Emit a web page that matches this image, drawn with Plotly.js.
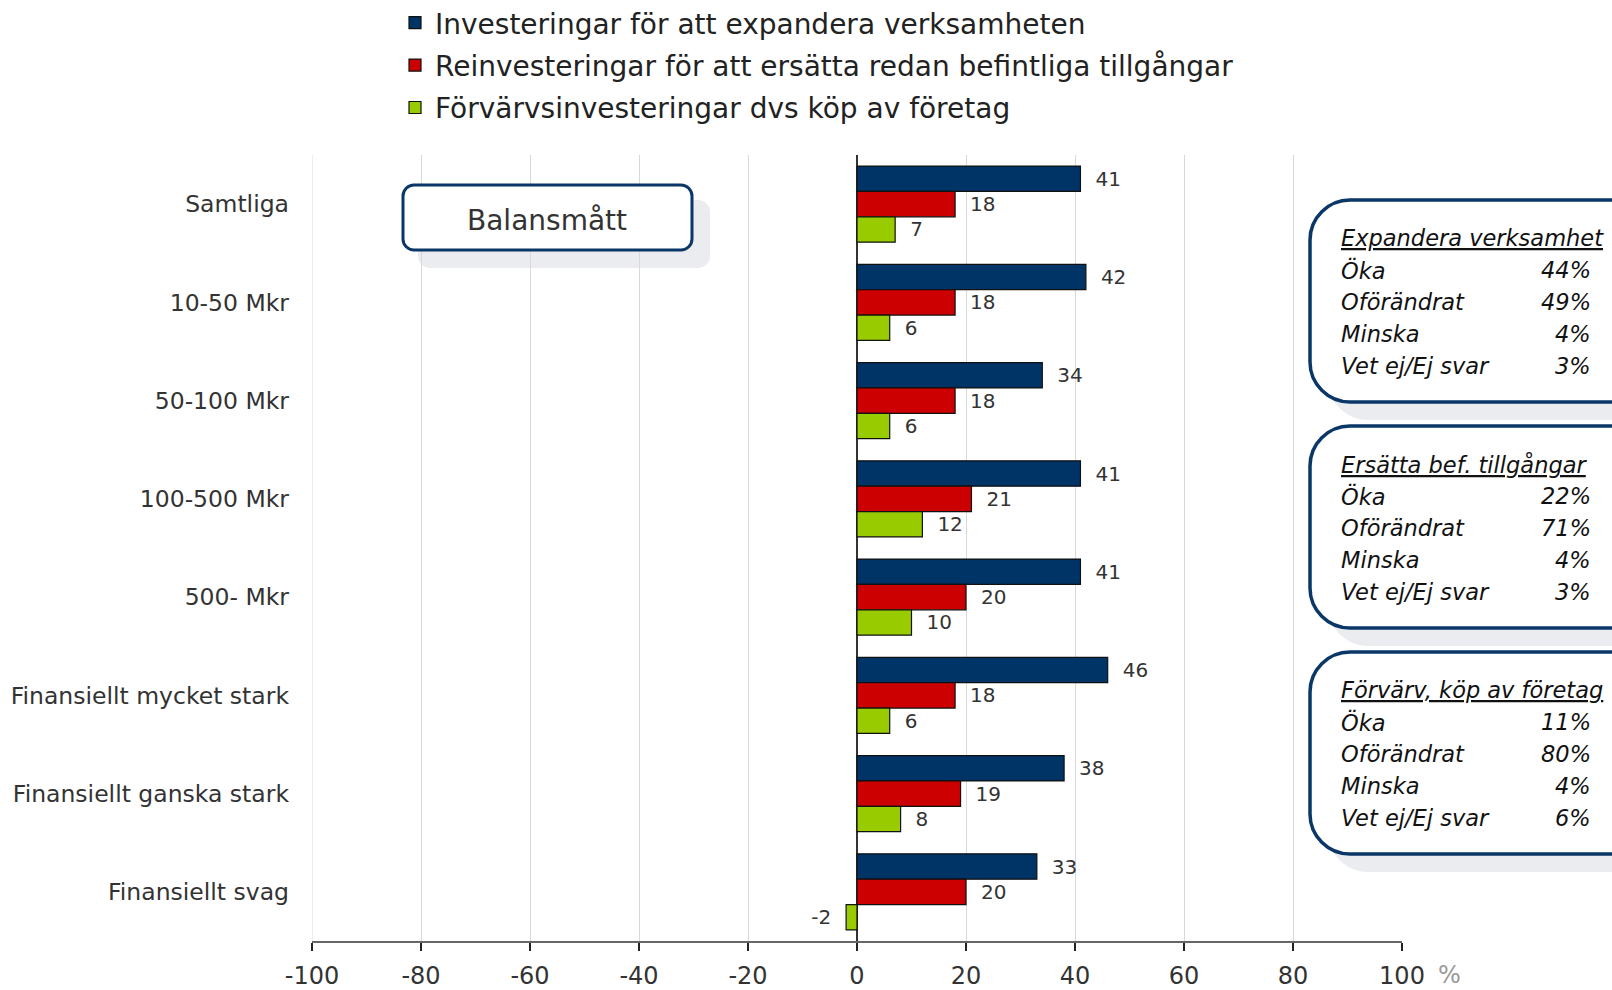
<!DOCTYPE html>
<html>
<head>
<meta charset="utf-8">
<script src="https://cdn.plot.ly/plotly-3.0.1.min.js"></script>
<style>html,body{margin:0;padding:0;background:#fff;}#chart{width:1612px;height:990px;}</style>
</head>
<body>
<div id="chart"></div>
<script>
// ---- data ----
const categories = ['Samtliga','10-50 Mkr','50-100 Mkr','100-500 Mkr','500- Mkr','Finansiellt mycket stark','Finansiellt ganska stark','Finansiellt svag'];
const seriesNames = ['Investeringar för att expandera verksamheten','Reinvesteringar för att ersätta redan befintliga tillgångar','Förvärvsinvesteringar dvs köp av företag'];
const expandValues = [41,42,34,41,41,46,38,33];
const reinvestValues = [18,18,18,21,20,18,19,20];
const acquireValues = [7,6,6,12,10,6,8,-2];
const xTickValues = [-100,-80,-60,-40,-20,0,20,40,60,80,100];
const boxTitle = 'Balansmått';
const tableTitles = ['Expandera verksamhet','Ersätta bef. tillgångar','Förvärv, köp av företag'];
const tableRowLabels = ['Öka','Oförändrat','Minska','Vet ej/Ej svar'];
const expandShares = [44,49,4,3];
const reinvestShares = [22,71,4,3];
const acquireShares = [11,80,4,6];

// ---- layout geometry (pixels) ----
const W = 1612, H = 990;
const ML = 312, MR = 210, MT = 155, MB = 49;
const PW = W - ML - MR, PH = H - MT - MB;
const px = x => (x - ML) / PW;
const py = y => (H - MB - y) / PH;
const colors = ['#003366', '#cc0000', '#99cc00'];
const FONT = '"DejaVu Sans", Verdana, sans-serif';
const TXT = '#333333';

function label(v) { return v >= 0 ? '\u2002\u200A' + v : v + '\u2002\u200A'; }

const allValues = [expandValues, reinvestValues, acquireValues];
const traces = allValues.map((vals, i) => ({
  type: 'bar', orientation: 'h',
  name: seriesNames[i], legendgroup: 'g' + i,
  y: categories, x: vals,
  text: vals.map(label), textposition: 'outside', cliponaxis: false,
  textfont: {family: FONT, size: 20, color: TXT},
  marker: {color: colors[i], line: {color: '#111111', width: 1.2}},
  hoverinfo: 'x+y'
}));

function rr(x0, y0, x1, y1, r) {
  const P = (x, y) => px(x) + ',' + py(y);
  return 'M' + P(x0 + r, y0) + ' L' + P(x1 - r, y0) + ' C' + P(x1 - r * 0.45, y0) + ' ' + P(x1, y0 + r * 0.45) + ' ' + P(x1, y0 + r) +
    ' L' + P(x1, y1 - r) + ' C' + P(x1, y1 - r * 0.45) + ' ' + P(x1 - r * 0.45, y1) + ' ' + P(x1 - r, y1) +
    ' L' + P(x0 + r, y1) + ' C' + P(x0 + r * 0.45, y1) + ' ' + P(x0, y1 - r * 0.45) + ' ' + P(x0, y1 - r) +
    ' L' + P(x0, y0 + r) + ' C' + P(x0, y0 + r * 0.45) + ' ' + P(x0 + r * 0.45, y0) + ' ' + P(x0 + r, y0) + ' Z';
}

const shapes = [];
const annotations = [];
const SHADOW = '#eaecef', BORDER = '#0b3768';

// gridline at the left edge (-100)
shapes.push({type: 'line', xref: 'x', yref: 'paper', x0: xTickValues[0], x1: xTickValues[0], y0: 0, y1: 1, layer: 'below', line: {color: '#d9d9d9', width: 1}});

// Balansmått box
shapes.push({type: 'path', xref: 'paper', yref: 'paper', layer: 'below', path: rr(418, 200, 710, 268, 12), fillcolor: SHADOW, line: {width: 0}});
shapes.push({type: 'path', xref: 'paper', yref: 'paper', layer: 'above', path: rr(403, 185, 692, 250, 11), fillcolor: '#ffffff', line: {color: BORDER, width: 3}});
annotations.push({xref: 'paper', yref: 'paper', x: px(547), y: py(220), text: boxTitle, showarrow: false, xanchor: 'center', yanchor: 'middle', font: {family: FONT, size: 28, color: TXT}});

// Right tables
const TF = 22.5;
const tableShares = [expandShares, reinvestShares, acquireShares];
tableTitles.forEach((t, k) => {
  const top = 200 + k * 226, bot = top + 202;
  shapes.push({type: 'path', xref: 'paper', yref: 'paper', layer: 'below', path: rr(1328, top + 18, 1660, bot + 18, 40), fillcolor: SHADOW, line: {width: 0}});
  shapes.push({type: 'path', xref: 'paper', yref: 'paper', layer: 'above', path: rr(1310, top, 1650, bot, 40), fillcolor: '#ffffff', line: {color: BORDER, width: 3.5}});
  const y0 = 238 + k * 226;
  annotations.push({xref: 'paper', yref: 'paper', x: px(1339), y: py(y0), text: '<u>' + t + '</u>', showarrow: false, xanchor: 'left', yanchor: 'middle', font: {family: FONT, size: TF, color: '#111', style: 'italic'}});
  tableRowLabels.forEach((lab, j) => {
    const yy = y0 + 32 * (j + 1);
    annotations.push({xref: 'paper', yref: 'paper', x: px(1339), y: py(yy), text: lab, showarrow: false, xanchor: 'left', yanchor: 'middle', font: {family: FONT, size: TF, color: '#111', style: 'italic'}});
    annotations.push({xref: 'paper', yref: 'paper', x: px(1593), y: py(yy), text: tableShares[k][j] + '%', showarrow: false, xanchor: 'right', yanchor: 'middle', font: {family: FONT, size: TF, color: '#111', style: 'italic'}});
  });
});

// % unit after axis
annotations.push({xref: 'paper', yref: 'paper', x: px(1436), y: py(975), text: '%', showarrow: false, xanchor: 'left', yanchor: 'middle', font: {family: FONT, size: 24, color: '#999999'}});

const layout = {
  width: W, height: H,
  margin: {l: ML, r: MR, t: MT, b: MB, pad: 0, autoexpand: false},
  paper_bgcolor: '#ffffff', plot_bgcolor: '#ffffff',
  font: {family: FONT, color: TXT},
  barmode: 'group', bargap: 0.226, bargroupgap: 0,
  showlegend: true,
  legend: {x: px(395), y: py(-2), xanchor: 'left', yanchor: 'top', orientation: 'v', tracegroupgap: 3, itemwidth: 30,
    font: {family: FONT, size: 28, color: '#222'}, bgcolor: 'rgba(0,0,0,0)', traceorder: 'grouped'},
  xaxis: {range: [-100, 100], tickvals: xTickValues, ticktext: xTickValues.map(String),
    showgrid: true, gridcolor: '#d9d9d9', gridwidth: 1,
    zeroline: true, zerolinecolor: '#333333', zerolinewidth: 1.5,
    showline: true, linecolor: '#666666', linewidth: 1.5,
    ticks: 'outside', ticklen: 8, tickcolor: '#222', tickwidth: 1.5,
    ticklabelstandoff: 5,
    tickfont: {family: FONT, size: 24, color: TXT}, fixedrange: true},
  yaxis: {type: 'category', autorange: 'reversed', showgrid: false, zeroline: false, showline: false, ticks: '',
    ticklabelstandoff: 22, tickfont: {family: FONT, size: 23.5, color: TXT}, fixedrange: true},
  shapes: shapes, annotations: annotations
};

Plotly.newPlot('chart', traces, layout, {displayModeBar: false, staticPlot: true});
</script>
</body>
</html>
